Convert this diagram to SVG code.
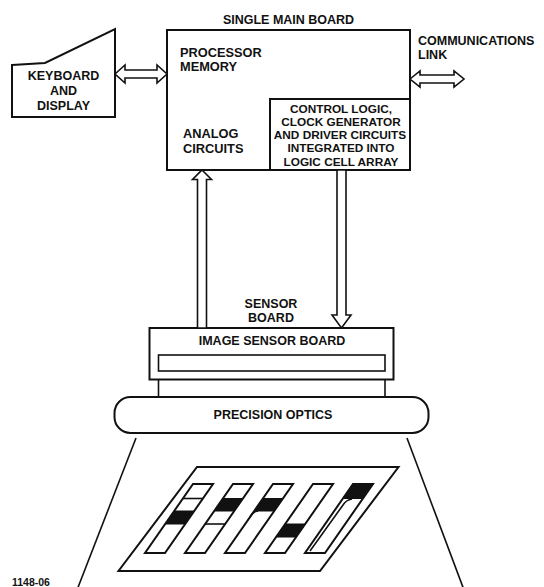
<svg xmlns="http://www.w3.org/2000/svg" width="544" height="587" viewBox="0 0 544 587">
  <style>
    .box { fill: #fff; stroke: #111; stroke-width: 2; }
    .thin { fill: none; stroke: #111; stroke-width: 1.6; }
    .arrow { fill: #fff; stroke: #111; stroke-width: 1.6; stroke-linejoin: miter; }
    .bar { fill: #fff; stroke: #111; stroke-width: 2; stroke-linejoin: miter; }
    .ink { fill: #111; stroke: #111; stroke-width: 1; }
    .t { font-family: "Liberation Sans", Arial, Helvetica, sans-serif; font-weight: bold; fill: #111; }
    .lg { font-size: 12.8px; }
    .md { font-size: 12.5px; }
    .sm { font-size: 11.8px; }
    .mid { text-anchor: middle; }
  </style>
  <rect width="544" height="587" fill="#fff"/>

  <!-- main processor board -->
  <g id="main-board">
    <text class="t md mid" x="288.5" y="24">SINGLE MAIN BOARD</text>
    <rect class="box" x="167" y="30" width="243" height="140"/>
    <text class="t lg" x="180" y="56.5">PROCESSOR</text>
    <text class="t lg" x="180" y="70.5">MEMORY</text>
    <text class="t lg" x="183" y="138">ANALOG</text>
    <text class="t lg" x="183" y="153">CIRCUITS</text>
  </g>

  <!-- logic cell array section of the main board -->
  <g id="control-logic">
    <rect class="box" x="270" y="99" width="140" height="71"/>
    <text class="t sm mid" x="341" y="113">CONTROL LOGIC,</text>
    <text class="t sm mid" x="341" y="126">CLOCK GENERATOR</text>
    <text class="t sm mid" x="340" y="139">AND DRIVER CIRCUITS</text>
    <text class="t sm mid" x="341" y="152">INTEGRATED INTO</text>
    <text class="t sm mid" x="341" y="165.5">LOGIC CELL ARRAY</text>
  </g>

  <!-- keyboard / display terminal -->
  <g id="keyboard">
    <polygon class="box" points="12,65 45,63 115,29 115,117 12,117"/>
    <text class="t md mid" x="63.5" y="80">KEYBOARD</text>
    <text class="t md mid" x="63.5" y="94.5">AND</text>
    <text class="t md mid" x="63.5" y="109.5">DISPLAY</text>
  </g>

  <!-- communications link label -->
  <g id="comm-link">
    <text class="t md" x="418" y="45">COMMUNICATIONS</text>
    <text class="t md" x="418" y="59">LINK</text>
  </g>

  <!-- sensor board -->
  <g id="sensor-board">
    <text class="t md mid" x="271" y="308">SENSOR</text>
    <text class="t md mid" x="271" y="322">BOARD</text>
    <rect class="box" x="149.5" y="328" width="244" height="51.5"/>
    <text class="t md mid" x="272" y="345">IMAGE SENSOR BOARD</text>
    <rect class="thin" x="158.5" y="355" width="226.5" height="16"/>
    <line class="thin" x1="158.5" y1="379.5" x2="158.5" y2="397"/>
    <line class="thin" x1="385" y1="379.5" x2="385" y2="397"/>
  </g>

  <!-- optics -->
  <g id="optics">
    <rect class="box" x="114.5" y="397" width="314" height="36" rx="16" ry="16"/>
    <text class="t md mid" x="273" y="419">PRECISION OPTICS</text>
    <line class="thin" x1="136" y1="438" x2="77" y2="590"/>
    <line class="thin" x1="407" y1="438" x2="464" y2="590"/>
  </g>

  <!-- scanned target with slanted bars -->
  <g id="target">
    <polygon class="bar" stroke-width="2.4" points="197,467 398.5,467 320,571 118.5,571"/>
    <polygon class="bar" points="193,484 213,484 165,553 145,553"/>
    <polygon class="bar" points="233,484 253,484 205,553 185,553"/>
    <polygon class="bar" points="273,484 293,484 245,553 225,553"/>
    <polygon class="bar" points="313,484 333,484 285,553 265,553"/>
    <polygon class="bar" points="353,484 373,484 325,553 305,553"/>
    <!-- bar markings -->
    <line class="thin" x1="182.9" y1="498.5" x2="202.9" y2="498.5"/>
    <polygon class="ink" points="174.2,511 194.2,511 185.2,524 165.2,524"/>
    <polygon class="ink" points="222.9,498.5 242.9,498.5 234.2,511 214.2,511"/>
    <line class="thin" x1="205.2" y1="524" x2="225.2" y2="524"/>
    <polygon class="ink" points="262.9,498.5 282.9,498.5 274.2,511 254.2,511"/>
    <path class="thin" d="M250,517 Q252,512 258,511"/>
    <polygon class="ink" points="285.2,524 305.2,524 296.1,537 276.1,537"/>
    <polygon class="ink" points="353,484 373,484 362.9,498.5 342.9,498.5"/>
    <path class="thin" d="M310,551 L343,505 Q346,500 352,499"/>
  </g>

  <g id="figure-number">
    <text class="t" font-size="10.5" x="12" y="586">1148-06</text>
  </g>

  <!-- bus connectors -->
  <g id="connectors">
    <polygon class="arrow" points="115,74 125,65 125,70 157,70 157,65 167,74 157,83 157,78 125,78 125,83"/>
    <polygon class="arrow" points="410,79 420,71 420,75 454,75 454,71 464,79 454,87 454,83 420,83 420,87"/>
    <polygon class="arrow" points="202,170 211.5,179.5 206.5,179.5 206.5,328 197.5,328 197.5,179.5 192.5,179.5"/>
    <polygon class="arrow" points="337,170 346,170 346,315 351,315 341.5,328 332,315 337,315"/>
  </g>
</svg>
